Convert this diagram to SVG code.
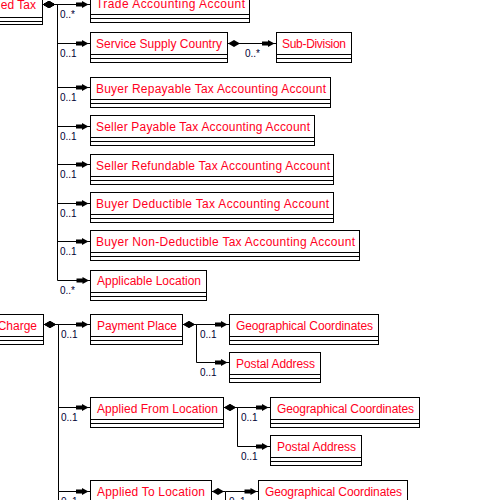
<svg xmlns="http://www.w3.org/2000/svg" width="500" height="500" viewBox="0 0 500 500">
<style>
.box{fill:#fff;stroke:#000;stroke-width:1}
.sep{stroke:#000;stroke-width:1}
.name{font-family:"Liberation Sans",Arial,sans-serif;font-size:12px;fill:#ff0022}
.mult{font-family:"Liberation Sans",Arial,sans-serif;font-size:10px;fill:#000033}
.conn{fill:none;stroke:#000;stroke-width:1}
</style>
<defs>
<marker id="dia" markerUnits="userSpaceOnUse" viewBox="0 -4 13 8" refX="0" refY="0" markerWidth="13" markerHeight="8" orient="auto">
<path d="M0.5,0 L6.5,-3.5 L12.5,0 L6.5,3.5 Z" fill="#000"/>
</marker>
<marker id="arr" markerUnits="userSpaceOnUse" viewBox="-15 -4 15 8" refX="0" refY="0" markerWidth="15" markerHeight="8" orient="auto">
<path d="M-14,-2 H-8 V-3.5 L-1.5,0 L-8,3.5 V2 H-14 Z" fill="#000"/>
</marker>
</defs>
<rect width="500" height="500" fill="#fff"/>

<g id="connectors">
<path class="conn" marker-start="url(#dia)" marker-end="url(#arr)" d="M42.5,4.5 H57.5 H90"/>
<path class="conn" marker-start="url(#dia)" marker-end="url(#arr)" d="M42.5,4.5 H57.5 V43.5 H90"/>
<path class="conn" marker-start="url(#dia)" marker-end="url(#arr)" d="M42.5,4.5 H57.5 V87.5 H90"/>
<path class="conn" marker-start="url(#dia)" marker-end="url(#arr)" d="M42.5,4.5 H57.5 V126.5 H90"/>
<path class="conn" marker-start="url(#dia)" marker-end="url(#arr)" d="M42.5,4.5 H57.5 V164.5 H90"/>
<path class="conn" marker-start="url(#dia)" marker-end="url(#arr)" d="M42.5,4.5 H57.5 V203.5 H90"/>
<path class="conn" marker-start="url(#dia)" marker-end="url(#arr)" d="M42.5,4.5 H57.5 V241.5 H90"/>
<path class="conn" marker-start="url(#dia)" marker-end="url(#arr)" d="M42.5,4.5 H57.5 V280.5 H90.5"/>
<path class="conn" marker-start="url(#dia)" marker-end="url(#arr)" d="M227.5,43.5 H276"/>

<path class="conn" marker-start="url(#dia)" marker-end="url(#arr)" d="M43.5,324.5 H58.5 H90"/>
<path class="conn" marker-start="url(#dia)" marker-end="url(#arr)" d="M43.5,324.5 H58.5 V407.5 H90"/>
<path class="conn" marker-start="url(#dia)" marker-end="url(#arr)" d="M43.5,324.5 H58.5 V491.5 H90"/>
<path class="conn" d="M58.5,491.5 V500"/>

<path class="conn" marker-start="url(#dia)" marker-end="url(#arr)" d="M182.5,324.5 H196.5 H229"/>
<path class="conn" marker-start="url(#dia)" marker-end="url(#arr)" d="M182.5,324.5 H196.5 V362.5 H229"/>
<path class="conn" marker-start="url(#dia)" marker-end="url(#arr)" d="M223.5,407.5 H237.5 H270"/>
<path class="conn" marker-start="url(#dia)" marker-end="url(#arr)" d="M223.5,407.5 H237.5 V446.5 H270"/>
<path class="conn" marker-start="url(#dia)" marker-end="url(#arr)" d="M211.5,491.5 H225.5 H258.5"/>
<path class="conn" d="M225.5,491.5 V500"/>

<text class="mult" x="60" y="18">0..*</text>
<text class="mult" x="60" y="57">0..1</text>
<text class="mult" x="245" y="57">0..*</text>
<text class="mult" x="60" y="101">0..1</text>
<text class="mult" x="60" y="140">0..1</text>
<text class="mult" x="60" y="178">0..1</text>
<text class="mult" x="60" y="217">0..1</text>
<text class="mult" x="60" y="255">0..1</text>
<text class="mult" x="60" y="294">0..*</text>
<text class="mult" x="61" y="338">0..1</text>
<text class="mult" x="61" y="421">0..1</text>
<text class="mult" x="61" y="505">0..1</text>
<text class="mult" x="200" y="338">0..1</text>
<text class="mult" x="200" y="376">0..1</text>
<text class="mult" x="241" y="421">0..1</text>
<text class="mult" x="241" y="460">0..1</text>
<text class="mult" x="229" y="505">0..1</text>
</g>

<g id="n-tax"><rect class="box" x="-100.5" y="-6.5" width="143" height="31"/><line class="sep" x1="-100" y1="17.5" x2="42.5" y2="17.5"/><line class="sep" x1="-100" y1="21.5" x2="42.5" y2="21.5"/><text class="name" x="36" y="9" text-anchor="end">ed Tax</text></g>
<g id="n-trade"><rect class="box" x="90.5" y="-7.5" width="159" height="30"/><line class="sep" x1="90.5" y1="14.5" x2="249.5" y2="14.5"/><line class="sep" x1="90.5" y1="18.5" x2="249.5" y2="18.5"/><text class="name" x="96" y="8" textLength="149" lengthAdjust="spacing">Trade Accounting Account</text></g>
<g id="n-ssc"><rect class="box" x="90.5" y="32.5" width="137" height="30"/><line class="sep" x1="90.5" y1="54.5" x2="227.5" y2="54.5"/><line class="sep" x1="90.5" y1="58.5" x2="227.5" y2="58.5"/><text class="name" x="96" y="48" textLength="126" lengthAdjust="spacing">Service Supply Country</text></g>
<g id="n-sub"><rect class="box" x="276.5" y="32.5" width="75" height="30"/><line class="sep" x1="276.5" y1="54.5" x2="351.5" y2="54.5"/><line class="sep" x1="276.5" y1="58.5" x2="351.5" y2="58.5"/><text class="name" x="282" y="48" textLength="64" lengthAdjust="spacing">Sub-Division</text></g>
<g id="n-brt"><rect class="box" x="90.5" y="77.5" width="240" height="30"/><line class="sep" x1="90.5" y1="99.5" x2="330.5" y2="99.5"/><line class="sep" x1="90.5" y1="103.5" x2="330.5" y2="103.5"/><text class="name" x="96" y="93" textLength="230" lengthAdjust="spacing">Buyer Repayable Tax Accounting Account</text></g>
<g id="n-spt"><rect class="box" x="90.5" y="115.5" width="224" height="30"/><line class="sep" x1="90.5" y1="137.5" x2="314.5" y2="137.5"/><line class="sep" x1="90.5" y1="141.5" x2="314.5" y2="141.5"/><text class="name" x="96" y="131" textLength="214" lengthAdjust="spacing">Seller Payable Tax Accounting Account</text></g>
<g id="n-srt"><rect class="box" x="90.5" y="154.5" width="243" height="30"/><line class="sep" x1="90.5" y1="176.5" x2="333.5" y2="176.5"/><line class="sep" x1="90.5" y1="180.5" x2="333.5" y2="180.5"/><text class="name" x="96" y="170" textLength="234" lengthAdjust="spacing">Seller Refundable Tax Accounting Account</text></g>
<g id="n-bdt"><rect class="box" x="90.5" y="192.5" width="243" height="30"/><line class="sep" x1="90.5" y1="214.5" x2="333.5" y2="214.5"/><line class="sep" x1="90.5" y1="218.5" x2="333.5" y2="218.5"/><text class="name" x="96" y="208" textLength="233" lengthAdjust="spacing">Buyer Deductible Tax Accounting Account</text></g>
<g id="n-bnd"><rect class="box" x="90.5" y="230.5" width="269" height="30"/><line class="sep" x1="90.5" y1="252.5" x2="359.5" y2="252.5"/><line class="sep" x1="90.5" y1="256.5" x2="359.5" y2="256.5"/><text class="name" x="96" y="246" textLength="259" lengthAdjust="spacing">Buyer Non-Deductible Tax Accounting Account</text></g>
<g id="n-al"><rect class="box" x="90.5" y="270.5" width="116" height="30"/><line class="sep" x1="90.5" y1="292.5" x2="206.5" y2="292.5"/><line class="sep" x1="90.5" y1="296.5" x2="206.5" y2="296.5"/><text class="name" x="97" y="285" textLength="104" lengthAdjust="spacing">Applicable Location</text></g>

<g id="n-charge"><rect class="box" x="-100.5" y="314.5" width="144" height="30"/><line class="sep" x1="-100" y1="336.5" x2="43.5" y2="336.5"/><line class="sep" x1="-100" y1="340.5" x2="43.5" y2="340.5"/><text class="name" x="37" y="330" text-anchor="end">Charge</text></g>
<g id="n-pp"><rect class="box" x="90.5" y="314.5" width="92" height="30"/><line class="sep" x1="90.5" y1="336.5" x2="182.5" y2="336.5"/><line class="sep" x1="90.5" y1="340.5" x2="182.5" y2="340.5"/><text class="name" x="97" y="330" textLength="80" lengthAdjust="spacing">Payment Place</text></g>
<g id="n-geo1"><rect class="box" x="229.5" y="314.5" width="149" height="30"/><line class="sep" x1="229.5" y1="336.5" x2="378.5" y2="336.5"/><line class="sep" x1="229.5" y1="340.5" x2="378.5" y2="340.5"/><text class="name" x="236" y="330" textLength="137" lengthAdjust="spacing">Geographical Coordinates</text></g>
<g id="n-post1"><rect class="box" x="229.5" y="352.5" width="91" height="30"/><line class="sep" x1="229.5" y1="374.5" x2="320.5" y2="374.5"/><line class="sep" x1="229.5" y1="378.5" x2="320.5" y2="378.5"/><text class="name" x="236" y="368" textLength="79" lengthAdjust="spacing">Postal Address</text></g>
<g id="n-afl"><rect class="box" x="90.5" y="397.5" width="133" height="30"/><line class="sep" x1="90.5" y1="419.5" x2="223.5" y2="419.5"/><line class="sep" x1="90.5" y1="423.5" x2="223.5" y2="423.5"/><text class="name" x="97" y="413" textLength="121" lengthAdjust="spacing">Applied From Location</text></g>
<g id="n-geo2"><rect class="box" x="270.5" y="397.5" width="149" height="30"/><line class="sep" x1="270.5" y1="419.5" x2="419.5" y2="419.5"/><line class="sep" x1="270.5" y1="423.5" x2="419.5" y2="423.5"/><text class="name" x="277" y="413" textLength="137" lengthAdjust="spacing">Geographical Coordinates</text></g>
<g id="n-post2"><rect class="box" x="270.5" y="435.5" width="91" height="30"/><line class="sep" x1="270.5" y1="457.5" x2="361.5" y2="457.5"/><line class="sep" x1="270.5" y1="461.5" x2="361.5" y2="461.5"/><text class="name" x="277" y="451" textLength="79" lengthAdjust="spacing">Postal Address</text></g>
<g id="n-atl"><rect class="box" x="90.5" y="480.5" width="121" height="30"/><text class="name" x="97" y="496" textLength="108" lengthAdjust="spacing">Applied To Location</text></g>
<g id="n-geo3"><rect class="box" x="258.5" y="480.5" width="149" height="30"/><text class="name" x="265" y="496" textLength="137" lengthAdjust="spacing">Geographical Coordinates</text></g>
</svg>
